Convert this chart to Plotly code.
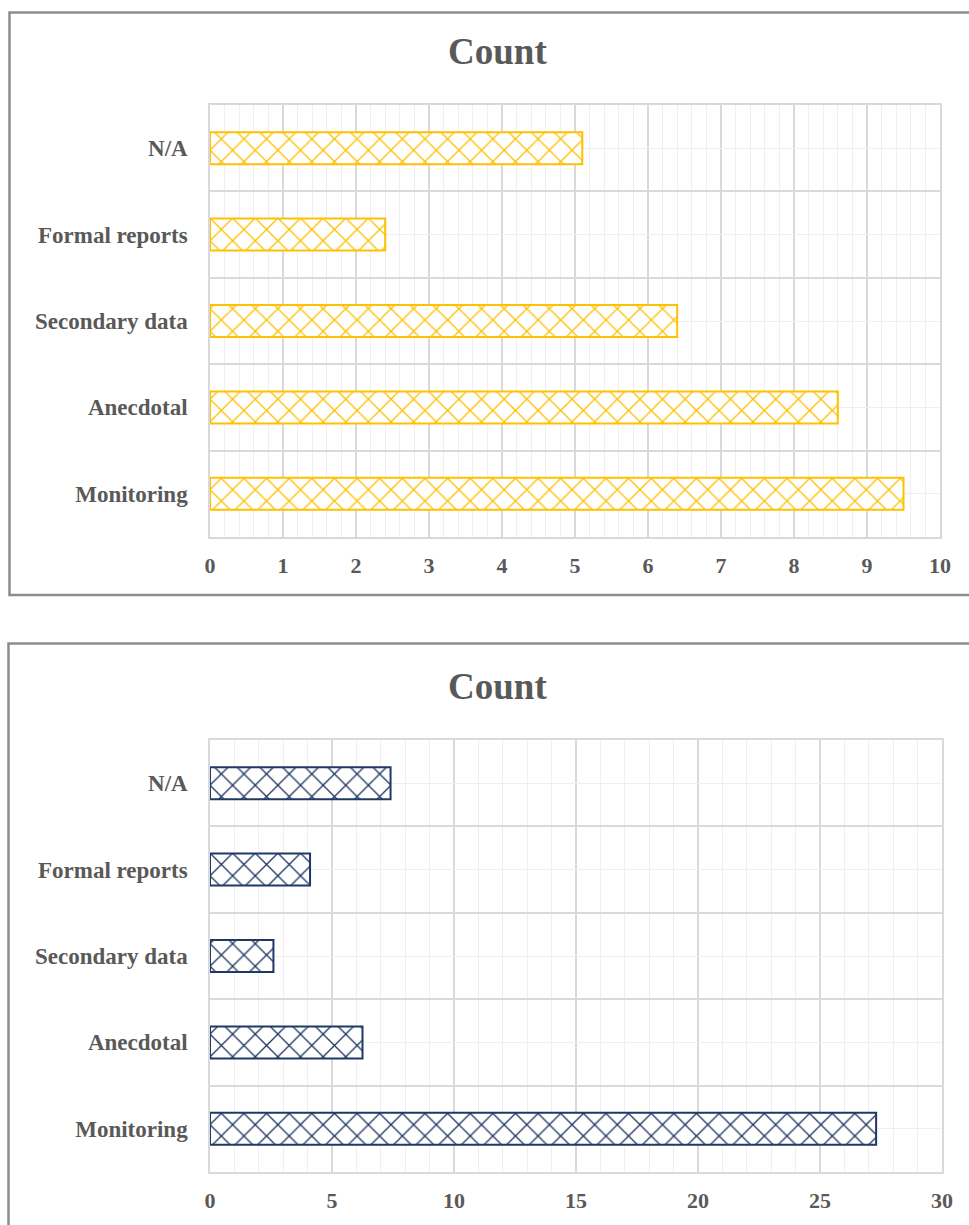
import plotly.graph_objects as go

categories = ["Monitoring", "Anecdotal", "Secondary data", "Formal reports", "N/A"]
top_values = [9.5, 8.6, 6.4, 2.4, 5.1]
bottom_values = [27.3, 6.25, 2.6, 4.1, 7.4]

W, H = 969, 1225
FONT = "Liberation Serif"
GREY = "#595959"
MAJ = "#d9d9d9"
MIN = "#efefef"

fig = go.Figure()

def bar(vals, color, xa, ya):
    return go.Bar(
        x=vals, y=categories, orientation="h", xaxis=xa, yaxis=ya,
        width=0.37,
        marker=dict(color="white", line=dict(color=color, width=2),
                    pattern=dict(shape="x", fgcolor=color, bgcolor="white",
                                 size=16, solidity=0.16)),
        showlegend=False, hoverinfo="skip",
    )

fig.add_trace(bar(top_values, "#FFC000", "x", "y"))
fig.add_trace(bar(bottom_values, "#1F3864", "x2", "y2"))
# helper traces for the minor horizontal grid at category centers
fig.add_trace(go.Scatter(x=[], y=[], xaxis="x", yaxis="y3", showlegend=False))
fig.add_trace(go.Scatter(x=[], y=[], xaxis="x2", yaxis="y4", showlegend=False))

def px(v): return v / W
def py(v): return 1 - v / H

xtickfont = dict(family=FONT, size=22, color=GREY, weight="bold")
ytickfont = dict(family=FONT, size=23, color=GREY, weight="bold")

def xax(dom, rng, dt, mdt, anchor):
    return dict(domain=dom, range=rng, anchor=anchor,
                tickmode="linear", dtick=dt, tick0=0, showgrid=True, gridcolor=MAJ,
                gridwidth=1.5, zeroline=False, showline=True, mirror=True,
                linecolor=MAJ, linewidth=1.5,
                minor=dict(dtick=mdt, tick0=0, showgrid=True, gridcolor=MIN, gridwidth=1),
                tickfont=xtickfont, ticks="", ticklabelstandoff=8,
                automargin=False, fixedrange=True)

def yax(dom, anchor):
    return dict(domain=dom, anchor=anchor, type="category",
                categoryorder="array", categoryarray=categories,
                tickson="boundaries", showgrid=True, gridcolor=MAJ, gridwidth=1.5,
                zeroline=False, showline=True, mirror=True, linecolor=MAJ,
                linewidth=1.5, ticks="", tickfont=ytickfont,
                ticklabelstandoff=16, range=[-0.5, 4.5], automargin=False,
                fixedrange=True)

def yover(base, anchor):
    return dict(overlaying=base, anchor=anchor, range=[-0.5, 4.5], tickmode="linear",
                dtick=1, tick0=0, showgrid=True, gridcolor=MIN, gridwidth=1,
                showticklabels=False, zeroline=False, ticks="", automargin=False,
                fixedrange=True)

fig.update_layout(
    template="none",
    width=W, height=H, margin=dict(l=0, r=0, t=0, b=0, pad=0, autoexpand=False),
    paper_bgcolor="white", plot_bgcolor="white",
    xaxis=xax([px(210), px(940)], [0, 10], 1, 0.2, "y"),
    yaxis=yax([py(537), py(105)], "x"),
    yaxis3=yover("y", "x"),
    xaxis2=xax([px(210), px(942)], [0, 30], 5, 1, "y2"),
    yaxis2=yax([py(1172), py(740)], "x2"),
    yaxis4=yover("y2", "x2"),
    bargap=0.63,
    font=dict(family=FONT),
)

titlefont = dict(family=FONT, size=37, color=GREY, weight="bold")
for ty in (52, 686):
    fig.add_annotation(text="Count", x=px(497), y=py(ty), xref="paper", yref="paper",
                       showarrow=False, font=titlefont, xanchor="center", yanchor="middle")

fig.add_shape(type="rect", xref="paper", yref="paper", x0=px(9.5), x1=px(1000),
              y0=py(595), y1=py(12.5), line=dict(color="#8c8c8c", width=2.5))
fig.add_shape(type="rect", xref="paper", yref="paper", x0=px(8.5), x1=px(1000),
              y0=py(1240), y1=py(643.5), line=dict(color="#8c8c8c", width=2.5))

fig.write_html("out.html")
